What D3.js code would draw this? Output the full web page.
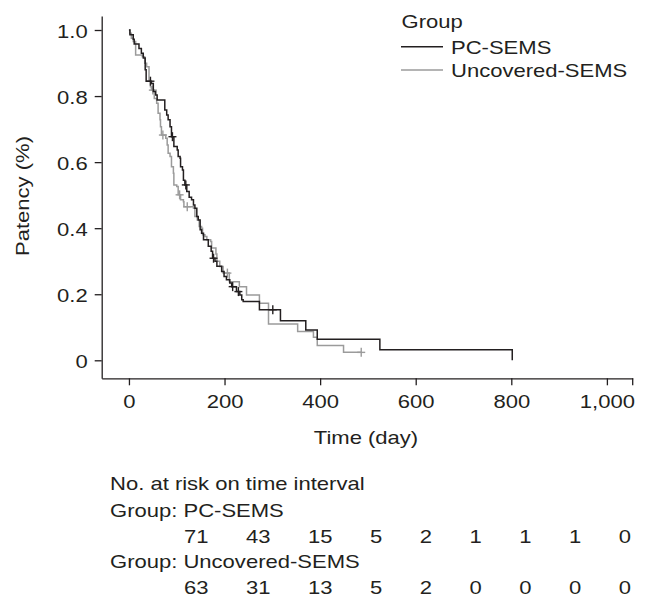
<!DOCTYPE html>
<html><head><meta charset="utf-8">
<script src="https://cdn.jsdelivr.net/npm/d3@7"></script>
<style>html,body{margin:0;padding:0;background:#fff;}svg{display:block;}</style>
</head><body>
<script>
// ---- data ----
const groupNames = ["PC-SEMS", "Uncovered-SEMS"];
const pcTimes = [2,9,11,21,26,30,34,36,47,51,56,59,75,79,82,86,89,94,101,103,107,108,112,114,117,121,126,131,135,138,142,145,149,152,156,166,172,175,180,184,194,199,204,211,215,225,232,236,239,273,317,370,394,525,802];
const pcSurv = [0.986,0.972,0.958,0.944,0.930,0.915,0.88,0.845,0.838,0.814,0.803,0.788,0.758,0.743,0.728,0.707,0.677,0.647,0.637,0.617,0.612,0.586,0.576,0.545,0.531,0.511,0.494,0.486,0.470,0.460,0.435,0.425,0.395,0.385,0.365,0.345,0.330,0.309,0.300,0.285,0.269,0.254,0.244,0.234,0.223,0.208,0.198,0.183,0.178,0.153,0.120,0.092,0.064,0.032,0];
const pcCensor = [45, 91, 119, 177, 217, 229, 301];
const ucTimes = [2,5,9,14,28,33,37,42,45,47,53,58,61,65,66,68,77,80,82,86,89,93,94,100,103,108,114,115,135,138,143,147,152,154,159,163,171,173,182,184,190,197,210,231,246,273,292,353,386,394,449];
const ucSurv = [0.99,0.975,0.965,0.924,0.919,0.899,0.889,0.849,0.828,0.818,0.793,0.778,0.748,0.728,0.707,0.682,0.672,0.652,0.627,0.617,0.586,0.566,0.531,0.526,0.501,0.486,0.480,0.465,0.460,0.435,0.425,0.405,0.400,0.380,0.375,0.365,0.360,0.340,0.322,0.300,0.284,0.264,0.238,0.223,0.198,0.173,0.110,0.087,0.070,0.045,0.024];
const ucCensor = [50, 71, 106, 122, 206, 486];
const xTicks = [0, 200, 400, 600, 800, 1000];
const yTicks = [0, 0.2, 0.4, 0.6, 0.8, 1.0];
const pcRisk = [71,43,15,5,2,1,1,1,0];
const ucRisk = [63,31,13,5,2,0,0,0,0];

// ---- layout ----
const W = 646, H = 600;
const SX = 1.16;           // horizontal stretch of glyphs
const FS = 19;
const INK = "#231f20", GRAY = "#9b9b9b";
const FONT = "'Liberation Sans', Arial, Helvetica, sans-serif";

const svg = d3.select("body").append("svg").attr("width", W).attr("height", H)
  .style("font-family", FONT).style("font-size", FS + "px");

const x = d3.scaleLinear().domain([-57, 1054]).range([101.7, 632.7]);
const y = d3.scaleLinear().domain([-0.0545, 1.0424]).range([378.3, 16]);

function txt(g, px, py, s, anchor, rot) {
  return g.append("text")
    .attr("transform", `translate(${px},${py})${rot ? " rotate(-90)" : ""} scale(${SX},1)`)
    .attr("text-anchor", anchor || "start").attr("fill", INK).text(s);
}

// axes
const xAxis = svg.append("g").attr("transform", `translate(0,${y.range()[0]})`)
  .call(d3.axisBottom(x).tickValues(xTicks).tickFormat(d3.format(",")).tickSize(7).tickSizeOuter(0));
const yAxis = svg.append("g").attr("transform", `translate(${x.range()[0]},0)`)
  .call(d3.axisLeft(y).tickValues(yTicks).tickFormat(d => d === 0 ? "0" : d3.format(".1f")(d)).tickSize(7).tickSizeOuter(0));
[xAxis, yAxis].forEach(a => {
  a.selectAll("path,line").attr("stroke", INK).attr("stroke-width", 1.3);
  a.selectAll("text").attr("fill", INK).style("font-size", FS + "px").style("font-family", FONT);
});
xAxis.selectAll(".tick text").attr("y", 30).attr("dy", 0).attr("transform", `scale(${SX},1)`);
yAxis.selectAll(".tick text").attr("x", -14 / SX).attr("dy", 0).attr("y", 7).attr("transform", `scale(${SX},1)`);
// end tick at the right end of the x axis
xAxis.append("line").attr("x1", x.range()[1]).attr("x2", x.range()[1]).attr("y1", 0).attr("y2", 7)
  .attr("stroke", INK).attr("stroke-width", 1.3);

txt(svg, 366, 444, "Time (day)", "middle");
txt(svg, 29, 196, "Patency (%)", "middle", true);

// curves
function series(times, surv, censor) {
  const pts = [[0, 1]].concat(times.map((t, i) => [t, surv[i]]));
  const end = Math.max(times[times.length - 1], d3.max(censor));
  if (end > times[times.length - 1]) pts.push([end, surv[surv.length - 1]]);
  const at = t => { let s = 1; times.forEach((tt, i) => { if (tt <= t) s = surv[i]; }); return s; };
  return { pts, cens: censor.map(t => [t, at(t)]) };
}
const line = d3.line().x(d => x(d[0])).y(d => y(d[1])).curve(d3.curveStepAfter);
const groups = [
  { d: series(ucTimes, ucSurv, ucCensor), c: GRAY },
  { d: series(pcTimes, pcSurv, pcCensor), c: INK }
];
groups.forEach(g => {
  svg.append("path").datum(g.d.pts).attr("d", line).attr("fill", "none")
    .attr("stroke", g.c).attr("stroke-width", 1.5);
  const cg = svg.append("g").attr("stroke", g.c).attr("stroke-width", 1.4);
  g.d.cens.forEach(p => {
    const cx = x(p[0]), cy = y(p[1]);
    cg.append("line").attr("x1", cx - 4).attr("x2", cx + 4).attr("y1", cy).attr("y2", cy);
    cg.append("line").attr("x1", cx).attr("x2", cx).attr("y1", cy - 4.5).attr("y2", cy + 4.5);
  });
});

// legend
const lg = svg.append("g");
txt(lg, 401.5, 28, "Group");
[[INK, 46.7, 53.5], [GRAY, 70, 77]].forEach((r, i) => {
  lg.append("line").attr("x1", 401).attr("x2", 443).attr("y1", r[1]).attr("y2", r[1])
    .attr("stroke", r[0]).attr("stroke-width", 1.5);
  txt(lg, 451, r[2], groupNames[i]);
});

// risk table
const rt = svg.append("g");
txt(rt, 110, 490, "No. at risk on time interval");
const rows = [[pcRisk, 517, 543], [ucRisk, 568, 594]];
rows.forEach((r, i) => {
  txt(rt, 110, r[1], "Group: " + groupNames[i]);
  let cx = 184;
  r[0].forEach(v => {
    const t = txt(rt, cx, r[2], String(v));
    cx += t.node().getComputedTextLength() * SX + 37.5;
  });
});
</script>
</body></html>
